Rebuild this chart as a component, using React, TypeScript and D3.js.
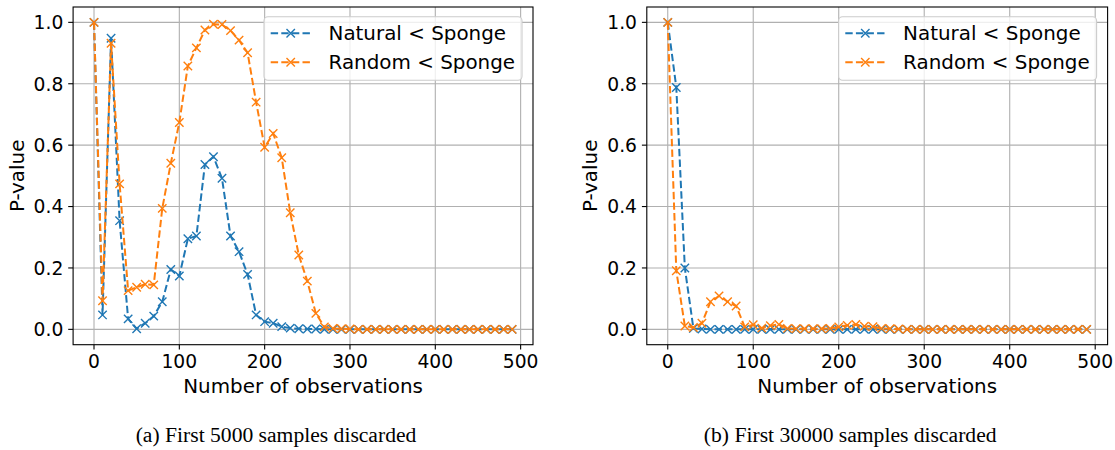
import React from "react";
import * as d3 from "d3";

const observations = [0,10,20,30,40,50,60,70,80,90,100,110,120,130,140,150,160,170,180,190,200,210,220,230,240,250,260,270,280,290,300,310,320,330,340,350,360,370,380,390,400,410,420,430,440,450,460,470,480,490];

const naturalA = [1.0,0.047,0.948,0.354,0.034,0.002,0.02,0.043,0.09,0.195,0.174,0.295,0.304,0.537,0.562,0.492,0.304,0.253,0.179,0.047,0.025,0.02,0.009,0.004,0.002,0.001,0.001,0,0,0,0,0,0,0,0,0,0,0,0,0,0,0,0,0,0,0,0,0,0,0];
const randomA = [1.0,0.093,0.932,0.474,0.126,0.137,0.147,0.145,0.394,0.541,0.674,0.858,0.917,0.975,0.994,0.993,0.973,0.942,0.901,0.74,0.593,0.638,0.559,0.38,0.242,0.157,0.052,0.008,0.003,0.002,0.001,0,0,0,0,0,0,0,0,0,0,0,0,0,0,0,0,0,0,0];
const naturalB = [1.0,0.788,0.2,0.003,0.001,0,0,0,0,0,0,0,0,0,0,0,0,0,0,0,0,0,0,0,0,0,0,0,0,0,0,0,0,0,0,0,0,0,0,0,0,0,0,0,0,0,0,0,0,0];
const randomB = [1.0,0.191,0.011,0.006,0.02,0.09,0.109,0.09,0.076,0.008,0.015,0.004,0.012,0.016,0.003,0.002,0.002,0.002,0.002,0.003,0.008,0.013,0.016,0.01,0.009,0.003,0.002,0.001,0,0,0,0,0,0,0,0,0,0,0,0,0,0,0,0,0,0,0,0,0,0];

const xTicks = [0, 100, 200, 300, 400, 500];
const yTicks = [0, 0.2, 0.4, 0.6, 0.8, 1.0];
const seriesNames = ["Natural < Sponge", "Random < Sponge"];
const seriesColors = ["#1f77b4", "#ff7f0e"];
const captions = ["(a) First 5000 samples discarded", "(b) First 30000 samples discarded"];

const FONT = "DejaVu Sans, sans-serif";
const TICK_FS = 18.7;
const LABEL_FS = 19.9;
const DASH = "7.4 3.2";

function Marker({ x, y, color }: { x: number; y: number; color: string }) {
  const r = 4.2;
  return (
    <path
      d={`M${x - r},${y - r}L${x + r},${y + r}M${x - r},${y + r}L${x + r},${y - r}`}
      stroke={color}
      strokeWidth={1.4}
      fill="none"
    />
  );
}

function Panel({
  left, right, top, bottom, series, caption, captionX,
}: {
  left: number; right: number; top: number; bottom: number;
  series: number[][]; caption: string; captionX: number;
}) {
  const x = d3.scaleLinear().domain([-24.5, 514.5]).range([left, right]);
  const y = d3.scaleLinear().domain([-0.05, 1.05]).range([bottom, top]);
  const line = d3.line<number>().x((_, i) => x(observations[i])).y((d) => y(d));
  const legW = 258;
  const legR = right - 11;
  const legL = legR - legW;
  const legT = 16.8;
  const legB = 80.3;
  return (
    <g>
      {xTicks.map((t) => (
        <line key={"gx" + t} x1={x(t)} x2={x(t)} y1={top} y2={bottom} stroke="#b0b0b0" strokeWidth={1.1} />
      ))}
      {yTicks.map((t) => (
        <line key={"gy" + t} x1={left} x2={right} y1={y(t)} y2={y(t)} stroke="#b0b0b0" strokeWidth={1.1} />
      ))}
      {series.map((vals, si) => (
        <g key={"s" + si}>
          <path d={line(vals) || ""} fill="none" stroke={seriesColors[si]} strokeWidth={2} strokeDasharray={DASH} />
          {vals.map((v, i) => (
            <Marker key={i} x={x(observations[i])} y={y(v)} color={seriesColors[si]} />
          ))}
        </g>
      ))}
      <rect x={left} y={top} width={right - left} height={bottom - top} fill="none" stroke="#000" strokeWidth={1.1} />
      {xTicks.map((t) => (
        <g key={"tx" + t}>
          <line x1={x(t)} x2={x(t)} y1={bottom} y2={bottom + 4.9} stroke="#000" strokeWidth={1.1} />
          <text x={x(t)} y={bottom + 23.3} textAnchor="middle" fontFamily={FONT} fontSize={TICK_FS} fill="#000">{t}</text>
        </g>
      ))}
      {yTicks.map((t) => (
        <g key={"ty" + t}>
          <line x1={left - 4.9} x2={left} y1={y(t)} y2={y(t)} stroke="#000" strokeWidth={1.1} />
          <text x={left - 9.8} y={y(t) + 6.8} textAnchor="end" fontFamily={FONT} fontSize={TICK_FS} fill="#000">{t.toFixed(1)}</text>
        </g>
      ))}
      <text x={(left + right) / 2} y={393} textAnchor="middle" fontFamily={FONT} fontSize={LABEL_FS} fill="#000">Number of observations</text>
      <text transform={`translate(${left - 49.5},${(top + bottom) / 2}) rotate(-90)`} textAnchor="middle" fontFamily={FONT} fontSize={LABEL_FS} fill="#000">P-value</text>
      <rect x={legL} y={legT} width={legW} height={legB - legT} rx={4} ry={4} fill="#fff" fillOpacity={0.8} stroke="#cccccc" strokeWidth={1.1} />
      {seriesNames.map((name, si) => {
        const cy = 33.3 + si * 29;
        const hx1 = legL + 6.7;
        const hx2 = hx1 + 40;
        return (
          <g key={"leg" + si}>
            <line x1={hx1} x2={hx2} y1={cy} y2={cy} stroke={seriesColors[si]} strokeWidth={2} strokeDasharray={DASH} />
            <Marker x={(hx1 + hx2) / 2} y={cy} color={seriesColors[si]} />
            <text x={legL + 64.5} y={cy + 7.1} fontFamily={FONT} fontSize={LABEL_FS} fill="#000">{name}</text>
          </g>
        );
      })}
      <text x={captionX} y={442} textAnchor="middle" fontFamily="Liberation Serif, Times New Roman, serif" fontSize={21.6} fill="#000">{caption}</text>
    </g>
  );
}

export default function App() {
  return (
    <svg width={1115} height={450} style={{ position: "absolute", left: 0, top: 0, background: "#fff" }}>
      <rect x={0} y={0} width={1115} height={450} fill="#fff" />
      <Panel left={73.1} right={533} top={7} bottom={344.7} series={[naturalA, randomA]} caption={captions[0]} captionX={276} />
      <Panel left={646.8} right={1107.6} top={7} bottom={344.7} series={[naturalB, randomB]} caption={captions[1]} captionX={850.2} />
    </svg>
  );
}
